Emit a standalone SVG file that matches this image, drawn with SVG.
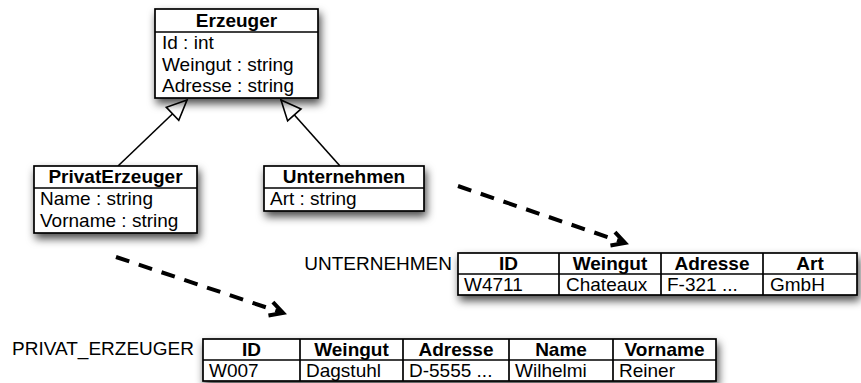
<svg xmlns="http://www.w3.org/2000/svg" width="861" height="383" viewBox="0 0 861 383">
  <style>
    text { font-family: "Liberation Sans", Arial, Helvetica, sans-serif; font-size: 19px; fill: #000; }
    .title { font-weight: bold; text-anchor: middle; }
    .end { text-anchor: end; }
    .box { fill: #fff; stroke: #000; stroke-width: 1.7; filter: url(#shadow); }
    .rule { stroke: #000; stroke-width: 1.7; fill: none; }
    .inherit { stroke: #000; stroke-width: 1.6; fill: none; marker-end: url(#hollow); }
    .map { stroke: #000; stroke-width: 4; fill: none; stroke-dasharray: 14 10; marker-end: url(#barb); }
  </style>
  <defs>
    <filter id="shadow" x="-20%" y="-30%" width="140%" height="180%">
      <feDropShadow dx="2" dy="5" stdDeviation="4" flood-color="#000" flood-opacity="0.7"/>
    </filter>
    <marker id="hollow" markerUnits="userSpaceOnUse" viewBox="-22 -11 24 22" markerWidth="24" markerHeight="22" refX="0" refY="0" orient="auto">
      <path d="M0,0 L-20,-9 L-20,9 Z" fill="#fff" stroke="#000" stroke-width="1.6"/>
    </marker>
    <marker id="barb" markerUnits="userSpaceOnUse" viewBox="-18 -10 22 20" markerWidth="22" markerHeight="20" refX="0" refY="0" orient="auto">
      <path d="M-13,-7 L0,0 L-13,7" fill="none" stroke="#000" stroke-width="4"/>
    </marker>
  </defs>

  <!-- connectors: generalisation arrows and table mappings -->
  <g id="connectors">
    <line class="inherit" x1="118" y1="166" x2="187" y2="100"/>
    <line class="inherit" x1="340" y1="166" x2="281" y2="100"/>
    <line class="map" x1="458" y1="186" x2="625" y2="243"/>
    <line class="map" x1="116" y1="257" x2="283" y2="313"/>
  </g>

  <!-- class Erzeuger -->
  <g id="erzeuger">
    <rect class="box" x="155" y="9" width="163" height="89"/>
    <line class="rule" x1="155" y1="32" x2="318" y2="32"/>
    <text class="title" x="236.5" y="27">Erzeuger</text>
    <text x="162" y="49">Id : int</text>
    <text x="162" y="71">Weingut : string</text>
    <text x="162" y="92">Adresse : string</text>
  </g>

  <!-- class PrivatErzeuger -->
  <g id="privaterzeuger">
    <rect class="box" x="34" y="166" width="163" height="67"/>
    <line class="rule" x1="34" y1="188" x2="197" y2="188"/>
    <text class="title" x="115.5" y="183">PrivatErzeuger</text>
    <text x="40" y="205">Name : string</text>
    <text x="40" y="227">Vorname : string</text>
  </g>

  <!-- class Unternehmen -->
  <g id="unternehmen">
    <rect class="box" x="264" y="166" width="160" height="45"/>
    <line class="rule" x1="264" y1="188" x2="424" y2="188"/>
    <text class="title" x="344" y="183">Unternehmen</text>
    <text x="270" y="205">Art : string</text>
  </g>

  <!-- table UNTERNEHMEN -->
  <g id="table-unternehmen">
    <text class="end" x="452" y="270">UNTERNEHMEN</text>
    <rect class="box" x="458" y="253" width="399" height="42"/>
    <line class="rule" x1="458" y1="274" x2="857" y2="274"/>
    <line class="rule" x1="559" y1="253" x2="559" y2="295"/>
    <line class="rule" x1="661" y1="253" x2="661" y2="295"/>
    <line class="rule" x1="763" y1="253" x2="763" y2="295"/>
    <text class="title" x="508.5" y="270">ID</text>
    <text class="title" x="610" y="270">Weingut</text>
    <text class="title" x="712" y="270">Adresse</text>
    <text class="title" x="810" y="270">Art</text>
    <text x="464" y="291">W4711</text>
    <text x="566" y="291">Chateaux</text>
    <text x="667" y="291">F-321 ...</text>
    <text x="770" y="291">GmbH</text>
  </g>

  <!-- table PRIVAT_ERZEUGER -->
  <g id="table-privat-erzeuger">
    <text class="end" x="194" y="355">PRIVAT_ERZEUGER</text>
    <rect class="box" x="203" y="339" width="513" height="42"/>
    <line class="rule" x1="203" y1="360" x2="716" y2="360"/>
    <line class="rule" x1="300" y1="339" x2="300" y2="381"/>
    <line class="rule" x1="403" y1="339" x2="403" y2="381"/>
    <line class="rule" x1="509" y1="339" x2="509" y2="381"/>
    <line class="rule" x1="613" y1="339" x2="613" y2="381"/>
    <text class="title" x="251.5" y="356">ID</text>
    <text class="title" x="351.5" y="356">Weingut</text>
    <text class="title" x="456" y="356">Adresse</text>
    <text class="title" x="561" y="356">Name</text>
    <text class="title" x="664.5" y="356">Vorname</text>
    <text x="209" y="377">W007</text>
    <text x="306" y="377">Dagstuhl</text>
    <text x="409" y="377">D-5555 ...</text>
    <text x="515" y="377">Wilhelmi</text>
    <text x="619" y="377">Reiner</text>
  </g>
</svg>
